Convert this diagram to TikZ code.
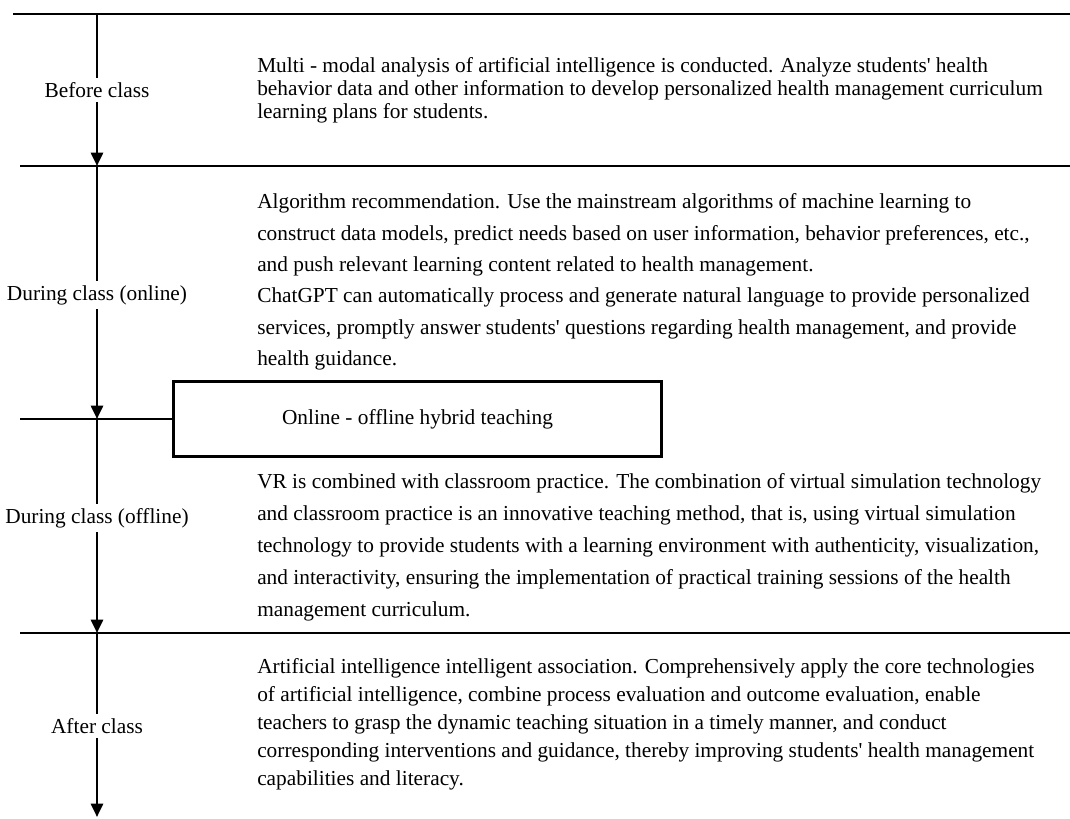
\documentclass[tikz,border=0pt]{standalone}
\usepackage{fontspec}
\setmainfont{Liberation Serif}
\usetikzlibrary{arrows.meta}
\newcommand{\apos}{\textquotesingle}
\tikzset{
  flow/.style={line width=2pt,-{Triangle[length=10pt,width=9pt]}},
  rule/.style={line width=2pt},
  stage/.style={fill=white,inner sep=3pt,font=\fontsize{16}{19}\selectfont},
  info/.style={anchor=west,align=left,inner sep=0pt,font=\fontsize{16}{23.5}\selectfont},
}
\begin{document}
\begin{tikzpicture}[x=0.75pt,y=-0.75pt]
\useasboundingbox (0,0) rectangle (1070,818);
% rules across the page
\coordinate (l1) at (13,14);   \coordinate (r1) at (1070,14);
\coordinate (l2) at (20,166);  \coordinate (r2) at (1070,166);
\coordinate (l3) at (20,419);
\coordinate (l4) at (20,633);  \coordinate (r4) at (1070,633);
\coordinate (t0) at (97,14);   \coordinate (t1) at (97,166);
\coordinate (t2) at (97,419);  \coordinate (t3) at (97,633);
\coordinate (t4) at (97,817);
\draw[rule] (l1) -- (r1);
\draw[rule] (l2) -- (r2);
\draw[rule] (l4) -- (r4);
% hybrid box
\node[draw,line width=2pt,minimum width=366pt,minimum height=56pt,inner sep=0pt,
  font=\fontsize{16}{19}\selectfont] (hybrid) at (417.5,419) {Online - offline hybrid teaching};
\draw[rule] (l3) -- (hybrid.west);
% time line
\draw[flow] (t0) -- (t1);
\draw[flow] (t1) -- (t2);
\draw[flow] (t2) -- (t3);
\draw[flow] (t3) -- (t4);
\node[stage] (before) at (97,90) {Before class};
\node[stage] (online) at (97,295) {During class (online)};
\node[stage] (offline) at (97,518) {During class (offline)};
\node[stage] (after) at (97,726) {After class};
% texts
\node[info,font=\fontsize{16}{17.25}\selectfont] (txtbefore) at (257,90) {Multi - modal analysis of artificial intelligence is conducted. Analyze students\apos{} health\\
behavior data and other information to develop personalized health management curriculum\\
learning plans for students.};
\node[info] (txtonline) at (257,282) {Algorithm recommendation. Use the mainstream algorithms of machine learning to\\
construct data models, predict needs based on user information, behavior preferences, etc.,\\
and push relevant learning content related to health management.\\
ChatGPT can automatically process and generate natural language to provide personalized\\
services, promptly answer students\apos{} questions regarding health management, and provide\\
health guidance.};
\node[info,font=\fontsize{16}{24}\selectfont] (txtoffline) at (257,547) {VR is combined with classroom practice. The combination of virtual simulation technology\\
and classroom practice is an innovative teaching method, that is, using virtual simulation\\
technology to provide students with a learning environment with authenticity, visualization,\\
and interactivity, ensuring the implementation of practical training sessions of the health\\
management curriculum.};
\node[info,font=\fontsize{16}{21}\selectfont] (txtafter) at (257,724) {Artificial intelligence intelligent association. Comprehensively apply the core technologies\\
of artificial intelligence, combine process evaluation and outcome evaluation, enable\\
teachers to grasp the dynamic teaching situation in a timely manner, and conduct\\
corresponding interventions and guidance, thereby improving students\apos{} health management\\
capabilities and literacy.};
\end{tikzpicture}
\end{document}
